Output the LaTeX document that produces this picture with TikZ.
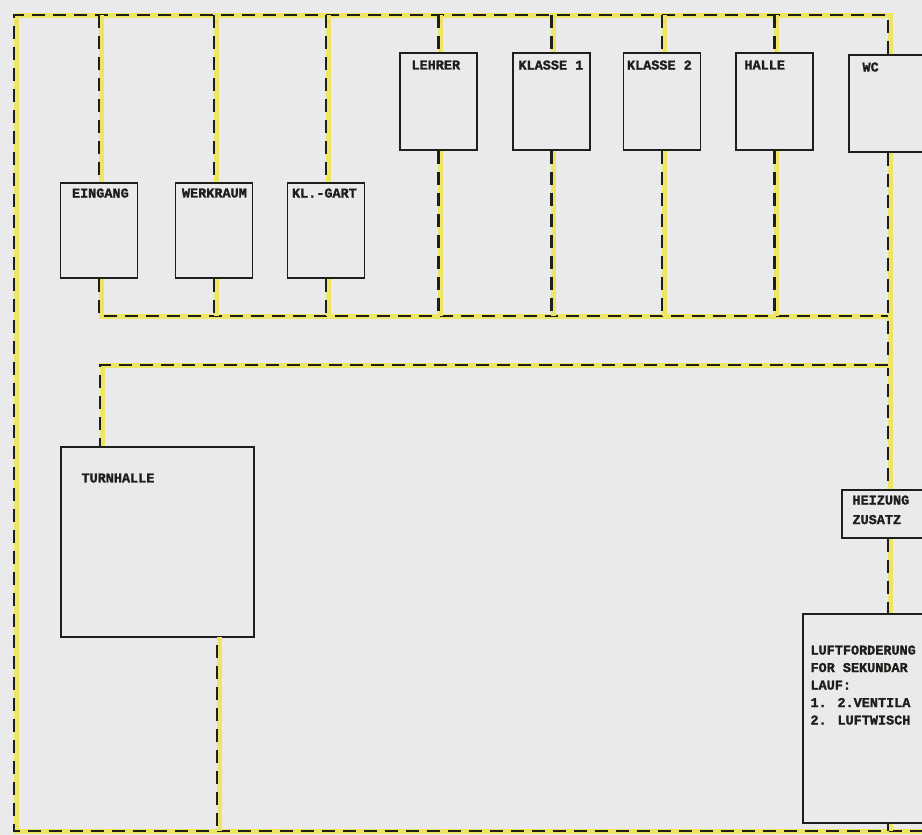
\documentclass[tikz,border=0pt]{standalone}
\usepackage{fontspec}
\newfontfamily\plotfont{Liberation Mono}[BoldFeatures={FakeBold=1.6}]
\usetikzlibrary{positioning}
\definecolor{paper}{RGB}{234,234,236}
\definecolor{marker}{RGB}{236,230,100}
\definecolor{ink}{RGB}{30,30,26}

\begin{document}
\begin{tikzpicture}[x=1pt, y=-1pt,
  room/.style={draw=ink, line width=1.4pt, minimum width=77pt, minimum height=95pt, inner sep=0pt},
  tag/.style={font=\plotfont\bfseries\fontsize{13.5}{17.5}\selectfont, inner sep=0pt, align=left, text=ink},
  duct/.style={draw=ink, line width=2.2pt, dash pattern=on 13pt off 8pt,
    preaction={draw=marker, line width=5pt, solid, transform canvas={xshift=2pt}}}]
  \useasboundingbox (0,0) rectangle (922,835);
  \fill[paper] (0,0) rectangle (922,835);

  % rooms
  \node[room] (eingang)  at (99,230.5)  {};
  \node[room] (werkraum) at (214,230.5) {};
  \node[room] (klgart)   at (326,230.5) {};
  \node[room, minimum height=97pt] (lehrer)  at (438.5,101.5) {};
  \node[room, minimum height=97pt] (klasse1) at (551.5,101.5) {};
  \node[room, minimum height=97pt] (klasse2) at (662,101.5)   {};
  \node[room, minimum height=97pt] (halle)   at (774.5,101.5) {};
  \node[room, minimum height=97pt, minimum width=78pt] (wc) at (888,103.5) {};
  \node[room, minimum width=193pt, minimum height=190pt] (turnhalle) at (157.5,542) {};
  \node[room, minimum width=92pt, minimum height=48pt]   (heizung)   at (888,514)   {};
  \node[room, minimum width=170pt, minimum height=209pt] (luft)      at (888,718.5) {};

  % labels
  \node[tag, below right=6pt and 12pt of eingang.north west]  (eingang-t)  {EINGANG};
  \node[tag, below right=6pt and 7pt of werkraum.north west]  (werkraum-t) {WERKRAUM};
  \node[tag, below right=6pt and 5pt of klgart.north west]    (klgart-t)   {KL.-GART};
  \node[tag, below right=8pt and 12pt of lehrer.north west]   (lehrer-t)   {LEHRER};
  \node[tag, below right=8pt and 6pt of klasse1.north west]   (klasse1-t)  {KLASSE 1};
  \node[tag, below right=8pt and 4pt of klasse2.north west]   (klasse2-t)  {KLASSE 2};
  \node[tag, below right=8pt and 9pt of halle.north west]     (halle-t)    {HALLE};
  \node[tag, below right=8pt and 14pt of wc.north west]       (wc-t)       {WC};
  \node[tag, below right=27pt and 21pt of turnhalle.north west] (turnhalle-t) {TURNHALLE};
  \node[tag, below right=6pt and 11pt of heizung.north west]  (heizung-t)  {HEIZUNG\\[2pt]ZUSATZ};
  \node[tag, below right=32pt and 8pt of luft.north west]     (luft-t)
    {LUFTFORDERUNG\\FOR SEKUNDAR\\LAUF:\\1. 2.VENTILA\\2. LUFTWISCH};

  % duct points
  \coordinate (topL) at (14,15);
  \coordinate (botL) at (14,831);
  \coordinate (botR) at (922,831);
  \coordinate (busA) at (888,316);
  \coordinate (busB) at (888,365);
  \coordinate (knee) at (100,365);
  \coordinate (drop) at (217,637);

  % ducts
  \draw[duct] (wc.north) -- (wc.north |- topL) -- (topL) -- (botL) -- (botR);
  \foreach \r in {eingang,werkraum,klgart,lehrer,klasse1,klasse2,halle}
    \draw[duct] (\r.north |- topL) -- (\r.north);
  \draw[duct] (eingang.south) -- (eingang.south |- busA) -- (busA);
  \foreach \r in {werkraum,klgart,lehrer,klasse1,klasse2,halle}
    \draw[duct] (\r.south) -- (\r.south |- busA);
  \draw[duct] (wc.south) -- (heizung.north);
  \draw[duct] (busB) -- (knee) -- (knee |- turnhalle.north);
  \draw[duct, dash phase=13pt] (drop) -- (drop |- botL);
  \draw[duct] (heizung.south) -- (luft.north);
  \draw[duct] (luft.south) -- (luft.south |- botL);
\end{tikzpicture}
\end{document}
